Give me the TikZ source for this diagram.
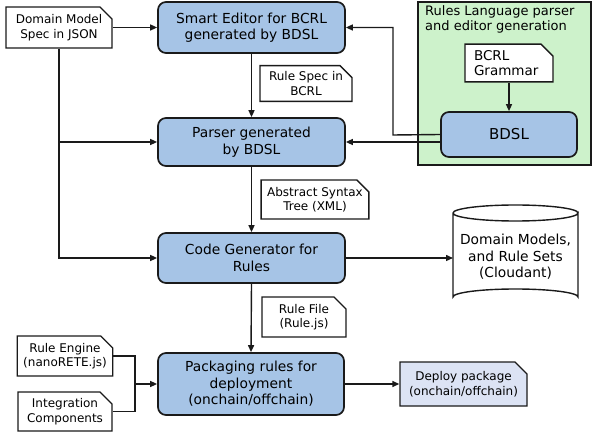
\documentclass[tikz,border=0pt]{standalone}
\usepackage{fontspec}
\setmainfont{DejaVu Sans}
\usetikzlibrary{arrows.meta,shapes.misc,calc}
\definecolor{boxblue}{HTML}{A6C4E6}
\definecolor{grn}{HTML}{CDF2CB}
\definecolor{deploy}{HTML}{DCE3F4}
\definecolor{ln}{HTML}{1A1A1A}
\tikzset{
  bbox/.style={draw=ln, line width=1.7pt, rounded corners=8pt, fill=boxblue, inner sep=0pt, align=center, font=\fontsize{13.8}{16.5}\selectfont},
  doc/.style={draw=ln, line width=1.4pt, chamfered rectangle, chamfered rectangle corners=north east, chamfered rectangle xsep=6pt, chamfered rectangle ysep=6pt, fill=white, inner sep=0pt, align=center, font=\fontsize{12}{14.5}\selectfont},
  conn/.style={draw=ln, line width=1.4pt, -{Triangle[length=7pt,width=6pt]}},
  plain/.style={draw=ln, line width=1.4pt},
}
\begin{document}
\begin{tikzpicture}[x=1pt,y=-1pt]
\useasboundingbox (0,0) rectangle (594,435);
% green region
\node[draw=ln, line width=1.4pt, fill=grn, minimum width=173pt, minimum height=163pt, inner sep=0pt] (grp) at (504.5,83.5) {};
\node[anchor=north west, inner sep=0pt, align=left, font=\fontsize{13}{15}\selectfont] (grptitle) at (425,5) {Rules Language parser\\and editor generation};
% main boxes
\node[bbox, minimum width=187pt, minimum height=51pt] (se) at (251.5,27.5) {Smart Editor for BCRL\\generated by BDSL};
\node[bbox, minimum width=187pt, minimum height=48pt] (pa) at (251.5,142) {Parser generated\\by BDSL};
\node[bbox, minimum width=187pt, minimum height=50pt] (cg) at (251.5,258) {Code Generator for\\Rules};
\node[bbox, minimum width=186pt, minimum height=62pt] (pk) at (251,384) {Packaging rules for\\deployment\\(onchain/offchain)};
\node[bbox, minimum width=136pt, minimum height=45pt, font=\fontsize{15}{17}\selectfont] (bdsl) at (509,134.5) {BDSL};
% docs
\node[doc, minimum width=106pt, minimum height=41pt] (dm) at (59,27.5) {Domain Model\\Spec in JSON};
\node[doc, minimum width=92pt, minimum height=33pt] (rs) at (306,83.5) {Rule Spec in\\BCRL};
\node[doc, minimum width=106pt, minimum height=39pt] (ast) at (315,199.5) {Abstract Syntax\\Tree (XML)};
\node[doc, minimum width=84pt, minimum height=40pt] (rf) at (304,317) {Rule File\\(Rule.js)};
\node[doc, minimum width=94pt, minimum height=40pt] (re) at (65,356) {Rule Engine\\(nanoRETE.js)};
\node[doc, minimum width=94pt, minimum height=39pt] (ic) at (65,411.5) {Integration\\Components};
\node[doc, minimum width=127pt, minimum height=44pt, fill=deploy] (dp) at (463.5,384) {Deploy package\\(onchain/offchain)};
\node[doc, minimum width=88pt, minimum height=34pt, text width=70pt, align=left, font=\fontsize{13.5}{15.5}\selectfont] (gr) at (509,63) {BCRL\\Grammar};
% cylinder
\draw[ln, line width=1.4pt, fill=white] (453,213) -- (453,297) arc[start angle=180, end angle=360, x radius=62.5, y radius=8] -- (578,213) arc[start angle=0, end angle=180, x radius=62.5, y radius=8];
\draw[ln, line width=1.4pt] (453,213) arc[start angle=180, end angle=360, x radius=62.5, y radius=8];
\node[align=center, inner sep=0pt, font=\fontsize{13.8}{16.5}\selectfont] (db) at (515.5,257) {Domain Models,\\and Rule Sets\\(Cloudant)};
\coordinate (dbw) at (453,258);
% connectors
\draw[conn] (dm.east) -- (se.west);
\draw[conn] (dm.south) |- (cg.west);
\draw[conn] (dm.south |- pa.west) -- (pa.west);
\draw[conn] (se.south) -- (pa.north);
\draw[conn] (pa.south) -- (cg.north);
\draw[conn] (cg.south) -- (pk.north);
\draw[conn] (cg.east) -- (dbw);
\draw[conn] (pk.east) -- (dp.west);
\draw[conn] (gr.south) -- (bdsl.north);
\draw[conn] (bdsl.west |- pa.east) -- (pa.east);
\coordinate (bend) at (393,135);
\draw[conn] (bdsl.west) -- (bend) |- (se.east);
\coordinate (j) at (135,384);
\draw[plain] (re.east) -| (j);
\draw[plain] (ic.east) -| (j);
\draw[conn] (j) -- (pk.west);
\end{tikzpicture}
\end{document}
